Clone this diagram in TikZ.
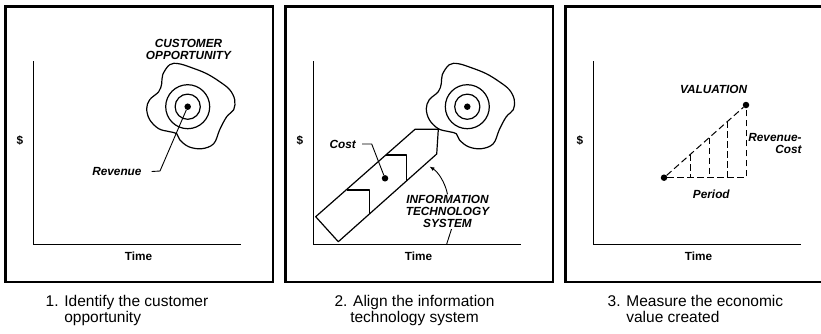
\documentclass[tikz,border=0pt]{standalone}
\usepackage{fontspec}
\setmainfont{Liberation Sans}
\usetikzlibrary{positioning,arrows.meta,calc}
\tikzset{
  panelbox/.style={line width=2.8pt},
  axis/.style={line width=0.9pt},
  ink/.style={line width=1.2pt, line join=round},
  lead/.style={line width=0.9pt},
  lab/.style={font=\fontsize{11.8}{12}\selectfont\bfseries\itshape, inner sep=1pt, align=center},
  axlab/.style={font=\fontsize{11.8}{12}\selectfont\bfseries, inner sep=1pt},
  captxt/.style={font=\fontsize{15.5}{16}\selectfont, inner sep=0pt, anchor=north west, align=left},
  dot/.style={circle, fill, inner sep=0pt, minimum size=6.5pt},
  dashl/.style={line width=1pt, dash pattern=on 6.5pt off 3.5pt},
}
\newcommand{\oppblob}[1]{%
  \draw[ink, shift={#1}] plot[smooth cycle, tension=0.6] coordinates {
    (-25,-32) (-18,-42) (-9,-43) (4,-39) (19,-33) (32,-25) (42,-17) (47,-7)
    (46,3) (39,10) (32,23) (26,37) (14,42) (1,40) (-8,33) (-11,27) (-18,25)
    (-29,22) (-38,13) (-41,2) (-38,-7) (-29,-15) (-26,-23)};
  \draw[ink] #1 circle[radius=22] #1 circle[radius=12.6];
}

\begin{document}
\begin{tikzpicture}[x=1pt, y=-1pt]
  \useasboundingbox (0,0) rectangle (821,333);
  \clip (0,0) rectangle (821,333);
  % three panels with axes
  \foreach \ox/\i in {0/1,280/2,560/3}{
    \draw[panelbox] (5.5+\ox,6.5) rectangle (273+\ox,282);
    \draw[axis] (33.2+\ox,61) -- (33.2+\ox,244) -- (240.5+\ox,244);
    \node[axlab] (dol\i) at (19.8+\ox,140.7) {\$};
    \node[axlab] (time\i) at (138.6+\ox,256.7) {Time};
  }

  % 1. customer opportunity
  \oppblob{(187.7,106.7)}
  \node[dot] (rev) at (187.7,106.7) {};
  \node[lab] (opp) at (188.5,49.5) {CUSTOMER\\OPPORTUNITY};
  \node[lab, anchor=east] (revlab) at (142.7,171.5) {Revenue};
  \coordinate (revk) at (160,171);
  \draw[lead] ([xshift=9pt]revlab.east) -- (revk) -- (rev);

  % 2. information technology system
  \oppblob{(467.3,106.7)}
  \node[dot] (opp2) at (467.3,106.7) {};
  \draw[ink] (315.7,216.7) -- (415,129.3) -- (438.3,129.3) -- (436.7,154)
    -- (338.3,241.7) -- cycle;
  \draw[ink] (385.8,155) -- (406.7,155) -- (406.7,181);
  \draw[ink] (346.5,190) -- (369.3,190) -- (369.3,213.5);
  \node[dot] (cost) at (385,178.3) {};
  \node[lab, anchor=east] (costlab) at (357,144) {Cost};
  \coordinate (costk) at (371.7,144);
  \draw[lead] ([xshift=5pt]costlab.east) -- (costk) -- (cost);
  \node[lab] (itlab) at (447.5,211.7) {INFORMATION\\TECHNOLOGY\\SYSTEM};
  \coordinate (ithit) at (429.5,166.5);
  \coordinate (itax) at (446.7,244);
  \draw[lead, -{Latex[length=5pt,width=4pt]}] (itlab.north)
    .. controls (445,182) and (438,172) .. (ithit);
  \draw[lead] ([xshift=4pt]itlab.south) -- (itax);

  % 3. valuation
  \node[dot] (v0) at (664,177.7) {};
  \node[dot] (v1) at (746,105) {};
  \draw[dashl] (v0) -- (v1);
  \draw[dashl] (v0) -- (v0 -| v1) -- (v1);
  \foreach \t in {0.32,0.55,0.78}
    \draw[dashl] ($(v0)!\t!(v1)$) coordinate (p) -- (p |- v0);
  \node[lab] (val) at (713.6,89) {VALUATION};
  \node[lab, align=right, anchor=east] (rc) at (802.7,143.8) {Revenue-\\Cost};
  \node[lab] (per) at (711.3,194.3) {Period};

  % captions
  \node[captxt] (cap1) at (45.5,295.3) {1. Identify the customer\\\phantom{1. }opportunity};
  \node[captxt, anchor=north, align=center] (cap2) at (414.5,295.3) {2. Align the information\\technology system};
  \node[captxt] (cap3) at (607.5,295.3) {3. Measure the economic\\\phantom{3. }value created};
\end{tikzpicture}
\end{document}
